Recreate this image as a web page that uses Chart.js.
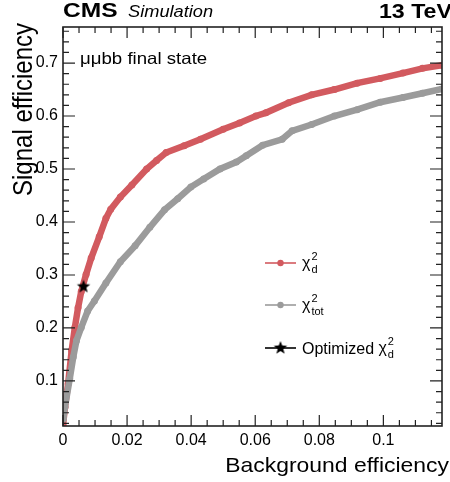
<!DOCTYPE html>
<html lang="en">
<head>
<meta charset="UTF-8">
<title>Signal vs background efficiency</title>
<script src="https://cdn.jsdelivr.net/npm/chart.js@4.4.0/dist/chart.umd.min.js"></script>
<style>
    body { margin: 0; background: #fff; }
</style>
</head>
<body>
<canvas id="roc" width="450" height="482"></canvas>
<script>
// axis tick labels
var xTickVals = [0, 0.02, 0.04, 0.06, 0.08, 0.1];
var xTickLabels = ['0', '0.02', '0.04', '0.06', '0.08', '0.1'];
var yTickVals = [0.1, 0.2, 0.3, 0.4, 0.5, 0.6, 0.7];
var yTickLabels = ['0.1', '0.2', '0.3', '0.4', '0.5', '0.6', '0.7'];

// chi2_d curve (background eff, signal eff)
var bkgD = [0, 0.0006, 0.0016, 0.0027, 0.0037, 0.0047, 0.0057, 0.0072, 0.0088, 0.0113, 0.0134, 0.0149,
    0.0179, 0.0215, 0.0261, 0.0292, 0.0322, 0.0378, 0.0429, 0.050, 0.0551, 0.0602, 0.0633, 0.0704,
    0.0776, 0.0847, 0.0918, 0.099, 0.1061, 0.1122, 0.1183];
var sigD = [0.016, 0.05, 0.095, 0.157, 0.201, 0.238, 0.269, 0.301, 0.332, 0.372, 0.407, 0.424,
    0.447, 0.470, 0.500, 0.516, 0.531, 0.544, 0.556, 0.575, 0.587, 0.600, 0.606, 0.625,
    0.640, 0.650, 0.662, 0.671, 0.681, 0.690, 0.696];

// chi2_tot curve
var bkgTot = [0.0001, 0.0006, 0.0021, 0.0032, 0.0042, 0.0057, 0.0077, 0.0098, 0.0134, 0.0179, 0.0225,
    0.0271, 0.0317, 0.0358, 0.0399, 0.0439, 0.049, 0.0541, 0.0572, 0.0623, 0.0684, 0.0715, 0.0776,
    0.0847, 0.0918, 0.099, 0.1061, 0.1122, 0.1183];
var sigTot = [0.028, 0.051, 0.104, 0.145, 0.176, 0.201, 0.232, 0.251, 0.285, 0.325, 0.355,
    0.390, 0.423, 0.444, 0.466, 0.481, 0.500, 0.513, 0.525, 0.545, 0.556, 0.572, 0.584,
    0.600, 0.612, 0.626, 0.635, 0.643, 0.651];

// optimized working point
var bkgOpt = [0.0064];
var sigOpt = [0.278];

var RED = '#d25a5f';
var GRAY = '#9b9b9b';
var FONT = '"Liberation Sans", Arial, Helvetica, sans-serif';

function f_points(xs, ys) {
    var v_pts = [];
    for (var i = 0; i < xs.length; i++) {
        v_pts.push({ x: xs[i], y: ys[i] });
    }
    return v_pts;
}

// filled five point star used as marker
function f_star(r) {
    var c = document.createElement('canvas');
    c.width = c.height = r * 2 + 2;
    var g = c.getContext('2d');
    g.fillStyle = '#000';
    g.beginPath();
    for (var i = 0; i < 10; i++) {
        var rr = i % 2 ? r * 0.42 : r;
        var a = -Math.PI / 2 + i * Math.PI / 5;
        g.lineTo(r + 1 + rr * Math.cos(a), r + 1 + rr * Math.sin(a));
    }
    g.closePath();
    g.fill();
    return c;
}
var starImg = f_star(7);

// text drawn slightly wider than tall, like the original figure
function f_text(ctx, str, x, y, font, align, sx) {
    ctx.save();
    ctx.translate(x, y);
    ctx.scale(sx, 1);
    ctx.font = font;
    ctx.textAlign = align;
    ctx.fillText(str, 0, 0);
    ctx.restore();
}

// chi with super/subscript
function f_chi(ctx, x, y, sub) {
    ctx.textAlign = 'left';
    ctx.font = '16px ' + FONT;
    ctx.fillText('\u03c7', x, y);
    var w = ctx.measureText('\u03c7').width;
    ctx.font = '11px ' + FONT;
    ctx.fillText('2', x + w + 1, y - 8);
    ctx.fillText(sub, x + w + 1, y + 5);
}

// ROOT style frame, inward ticks, labels and legend
var rootStyle = {
    id: 'rootStyle',
    afterDraw: function (chart) {
        var ctx = chart.ctx;
        var a = chart.chartArea;
        var xs = chart.scales.x, ys = chart.scales.y;
        ctx.save();
        ctx.strokeStyle = '#222';
        ctx.lineWidth = 1.6;
        ctx.strokeRect(a.left, a.top, a.right - a.left, a.bottom - a.top);

        ctx.lineWidth = 1.2;
        ctx.beginPath();
        var v, p, len;
        for (var i = 0; i <= 24; i++) {
            v = i * 0.005;
            if (v > xs.max) break;
            p = xs.getPixelForValue(v);
            len = i % 4 === 0 ? 11 : 6;
            ctx.moveTo(p, a.bottom); ctx.lineTo(p, a.bottom - len);
            ctx.moveTo(p, a.top); ctx.lineTo(p, a.top + len);
        }
        for (var j = 0; j <= 38; j++) {
            v = j * 0.02;
            if (v < ys.min || v > ys.max) continue;
            p = ys.getPixelForValue(v);
            len = j % 5 === 0 ? 12 : 6;
            ctx.moveTo(a.left, p); ctx.lineTo(a.left + len, p);
            ctx.moveTo(a.right, p); ctx.lineTo(a.right - len, p);
        }
        ctx.stroke();

        ctx.fillStyle = '#000';
        ctx.textBaseline = 'alphabetic';
        f_text(ctx, 'CMS', 63, 17, 'bold 21px ' + FONT, 'left', 1.17);
        f_text(ctx, 'Simulation', 128, 17, 'italic 16px ' + FONT, 'left', 1.14);
        f_text(ctx, '13 TeV', 452, 18, 'bold 20px ' + FONT, 'right', 1.16);
        f_text(ctx, '\u03bc\u03bcbb final state', 80, 64, '16.5px ' + FONT, 'left', 1.13);
        f_text(ctx, 'Background efficiency', 449, 472, '20.3px ' + FONT, 'right', 1.13);

        ctx.save();
        ctx.translate(31.5, 23);
        ctx.rotate(-Math.PI / 2);
        ctx.scale(1, 1.12);
        ctx.font = '24px ' + FONT;
        ctx.textAlign = 'right';
        ctx.fillText('Signal efficiency', 0, 0);
        ctx.restore();

        // legend
        var rows = [
            { y: 263, color: RED, mark: 'dot', sub: 'd', pre: '' },
            { y: 305, color: GRAY, mark: 'dot', sub: 'tot', pre: '' },
            { y: 348, color: '#000', mark: 'star', sub: 'd', pre: 'Optimized ' }
        ];
        rows.forEach(function (r) {
            ctx.strokeStyle = r.color;
            ctx.lineWidth = 1.6;
            ctx.beginPath();
            ctx.moveTo(265, r.y); ctx.lineTo(296, r.y);
            ctx.stroke();
            if (r.mark === 'dot') {
                ctx.fillStyle = r.color;
                ctx.beginPath();
                ctx.arc(280.5, r.y, 3.2, 0, Math.PI * 2);
                ctx.fill();
            } else {
                ctx.drawImage(starImg, 280.5 - starImg.width / 2, r.y - starImg.height / 2);
            }
            ctx.fillStyle = '#000';
            ctx.textAlign = 'left';
            ctx.font = '16px ' + FONT;
            var x0 = 302;
            if (r.pre) {
                ctx.fillText(r.pre, x0, r.y + 6);
                x0 += ctx.measureText(r.pre).width;
            }
            f_chi(ctx, x0, r.y + 5, r.sub);
        });
        ctx.restore();
    }
};

var ctx = document.getElementById('roc').getContext('2d');
var rocChart = new Chart(ctx, {
    type: 'scatter',
    data: {
        datasets: [{
            label: 'Optimized chi2_d',
            data: f_points(bkgOpt, sigOpt),
            showLine: false,
            pointStyle: starImg,
            pointRadius: 7,
            order: 0
        }, {
            label: 'chi2_tot',
            data: f_points(bkgTot, sigTot),
            showLine: true,
            borderColor: GRAY,
            backgroundColor: GRAY,
            borderWidth: 6.5,
            pointRadius: 3.5,
            pointBorderWidth: 0,
            tension: 0,
            order: 1
        }, {
            label: 'chi2_d',
            data: f_points(bkgD, sigD),
            showLine: true,
            borderColor: RED,
            backgroundColor: RED,
            borderWidth: 6.5,
            pointRadius: 3.5,
            pointBorderWidth: 0,
            tension: 0,
            order: 2
        }]
    },
    options: {
        responsive: false,
        animation: false,
        devicePixelRatio: 1,
        layout: { padding: { top: 27, right: 0, left: 0, bottom: 0 } },
        plugins: {
            legend: { display: false },
            tooltip: { enabled: false }
        },
        scales: {
            x: {
                type: 'linear',
                min: 0,
                max: 0.1183,
                border: { display: false },
                grid: { display: false, drawTicks: false },
                afterBuildTicks: function (axis) {
                    axis.ticks = xTickVals.map(function (v) { return { value: v }; });
                },
                afterFit: function (axis) { axis.height = 56; },
                ticks: {
                    padding: 5,
                    color: '#000',
                    font: { family: FONT, size: 16 },
                    maxRotation: 0,
                    callback: function (value, index) { return xTickLabels[index]; }
                }
            },
            y: {
                type: 'linear',
                min: 0.015,
                max: 0.768,
                border: { display: false },
                grid: { display: false, drawTicks: false },
                afterBuildTicks: function (axis) {
                    axis.ticks = yTickVals.map(function (v) { return { value: v }; });
                },
                afterFit: function (axis) { axis.width = 63; },
                ticks: {
                    padding: 5,
                    color: '#000',
                    font: { family: FONT, size: 16 },
                    callback: function (value, index) { return yTickLabels[index]; }
                }
            }
        }
    },
    plugins: [rootStyle]
});
</script>
</body>
</html>
